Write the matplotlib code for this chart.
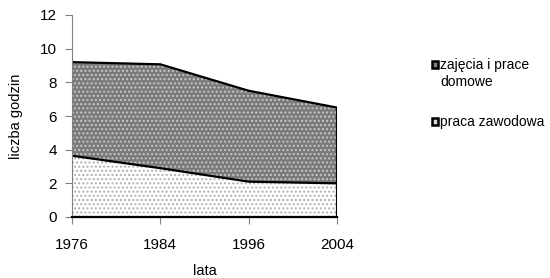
import numpy as np
import matplotlib.pyplot as plt
from matplotlib.patches import Rectangle

plt.rcParams['font.family'] = ['Liberation Sans', 'DejaVu Sans']
plt.rcParams['hatch.linewidth'] = 1.0

years = ['1976', '1984', '1996', '2004']
praca = [3.64, 2.9, 2.1, 2.0]
total = [9.2, 9.07, 7.5, 6.5]
domowe = [t - p for t, p in zip(total, praca)]
labels = ['zajęcia i prace\ndomowe', 'praca zawodowa']

x = np.arange(len(years))
work = np.array(praca)
top = work + np.array(domowe)

fig = plt.figure(figsize=(5.5, 2.78), dpi=100)
ax = fig.add_axes([72/550, 1 - 217/278, (337-72)/550, (217-15)/278])

# bottom layer: light dots on white, top layer: white dots on gray
ax.fill_between(x, 0, work, facecolor='white', edgecolor='#b0b0b0', hatch='....', linewidth=0)
ax.fill_between(x, work, top, facecolor='#7a7a7a', edgecolor='#c8c8c8', hatch='....', linewidth=0)

ax.plot(x, work, color='black', lw=1.6)
ax.plot(x, top, color='black', lw=1.6)
ax.plot([x[0], x[-1]], [0, 0], color='black', lw=1.6, zorder=5, clip_on=False)
ax.vlines(x[-1], 0, top[-1], color='black', lw=1.6, zorder=5)

ax.set_xlim(0, 3)
ax.set_ylim(0, 12)
ax.set_yticks(range(0, 13, 2))
ax.set_xticks(x)
ax.set_xticklabels(years)
for s in ['top', 'right']:
    ax.spines[s].set_visible(False)
for s in ['left', 'bottom']:
    ax.spines[s].set_color('#808080')
ax.tick_params(colors='#808080', labelcolor='black', labelsize=11, length=5)
ax.tick_params(axis='x', pad=10)
ax.tick_params(axis='y', pad=6)
ax.set_ylabel('liczba godzin', fontsize=10.5, labelpad=12)
ax.set_xlabel('lata', fontsize=10.5, labelpad=9)

# legend drawn by hand so the marker sits on the first text line
fills = ['#808080', '#d8d8d8']
ys = [61, 118]
for lab, fc, yy in zip(labels, fills, ys):
    fig.patches.append(Rectangle((431.5/550, 1 - (yy + 6.5)/278), 6.5/550, 6.5/278,
                                 transform=fig.transFigure, facecolor=fc,
                                 edgecolor='black', linewidth=1.8))
    fig.text(440/550, 1 - (yy - 3)/278, lab, fontsize=10, va='top',
             ha='left', linespacing=1.3)

fig.savefig('out.png', dpi=100)
